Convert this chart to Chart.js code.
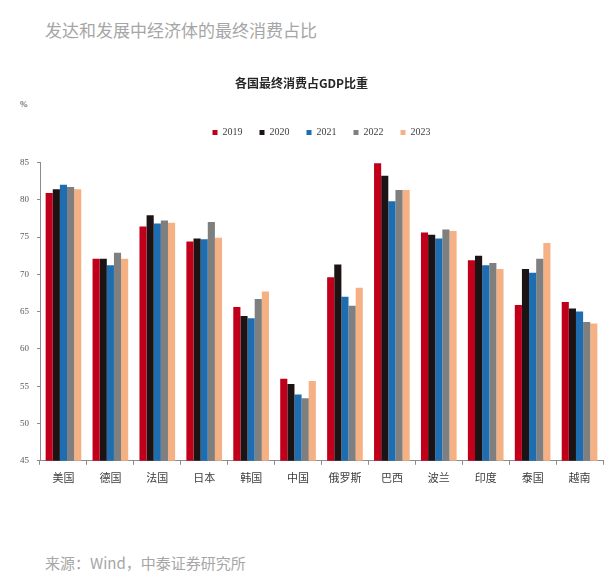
<!DOCTYPE html>
<html>
<head>
<meta charset="utf-8">
<script src="https://cdn.jsdelivr.net/npm/chart.js@4"></script>
<style>
  body { margin: 0; background: #fff; width: 611px; height: 575px; position: relative; overflow: hidden; }
  .page-title { position: absolute; left: 45px; top: 17px; font: 17px "Noto Sans CJK SC"; color: #a6a6a6; }
  .unit { position: absolute; left: 20px; top: 99px; font: 9px "Liberation Serif"; color: #404040; }
  .source { position: absolute; left: 45px; top: 552px; font: 15px "Noto Sans CJK SC"; color: #a6a6a6; }
  .wrap { position: absolute; left: 0; top: 66px; width: 611px; height: 424px; }
</style>
</head>
<body>
<div class="page-title">发达和发展中经济体的最终消费占比</div>
<div class="unit">%</div>
<div class="wrap"><canvas id="shareChart"></canvas></div>
<div class="source">来源：Wind，中泰证券研究所</div>
<script>
// countries and yearly final consumption share of GDP (%)
const countries = ['美国', '德国', '法国', '日本', '韩国', '中国', '俄罗斯', '巴西', '波兰', '印度', '泰国', '越南'];
const years = ['2019', '2020', '2021', '2022', '2023'];
const share2019 = [80.9, 72.1, 76.4, 74.4, 65.6, 56.0, 69.6, 84.9, 75.6, 71.9, 65.9, 66.3];
const share2020 = [81.4, 72.1, 77.9, 74.8, 64.4, 55.3, 71.3, 83.2, 75.3, 72.5, 70.7, 65.4];
const share2021 = [82.0, 71.2, 76.8, 74.7, 64.1, 53.9, 67.0, 79.8, 74.8, 71.2, 70.2, 65.0];
const share2022 = [81.7, 72.9, 77.2, 77.0, 66.7, 53.4, 65.8, 81.3, 76.0, 71.5, 72.1, 63.6];
const share2023 = [81.4, 72.1, 76.9, 74.9, 67.7, 55.7, 68.2, 81.3, 75.8, 70.7, 74.2, 63.4];
const yTicks = [45, 50, 55, 60, 65, 70, 75, 80, 85];

const colors = ['#c0001a', '#1c1414', '#1f6db1', '#7f7f7f', '#f5b184'];
const series = [share2019, share2020, share2021, share2022, share2023];

// extra room between the legend and the plot
const legendGap = {
    id: 'legendGap',
    beforeInit(chart) {
        const fit = chart.legend.fit;
        chart.legend.fit = function () {
            fit.bind(chart.legend)();
            this.height += 15;
        };
    }
};

const ctx = document.getElementById('shareChart').getContext('2d');
new Chart(ctx, {
    type: 'bar',
    data: {
        labels: countries,
        datasets: years.map((y, i) => ({
            label: y,
            data: series[i],
            backgroundColor: colors[i],
            borderWidth: 0,
            barPercentage: 1.0,
            categoryPercentage: 0.76
        }))
    },
    options: {
        responsive: true,
        maintainAspectRatio: false,
        animation: false,
        layout: { padding: { left: 0, right: 8, top: 0, bottom: 0 } },
        plugins: {
            title: {
                display: true,
                text: '各国最终消费占GDP比重',
                color: '#262626',
                font: { family: 'Noto Sans CJK SC', size: 12, weight: 'bold' },
                padding: { top: 10, bottom: 20 }
            },
            legend: {
                display: true,
                position: 'top',
                align: 'center',
                fullSize: false,
                labels: {
                    boxWidth: 5,
                    boxHeight: 5,
                    padding: 17,
                    color: '#404040',
                    font: { family: 'Liberation Serif', size: 10 }
                }
            },
            tooltip: { enabled: false }
        },
        scales: {
            x: {
                grid: { display: true, drawOnChartArea: false, offset: true, tickLength: 4, color: '#8c8c8c' },
                border: { color: '#8c8c8c' },
                ticks: {
                    color: '#404040',
                    font: { family: 'Noto Sans CJK SC', size: 11 },
                    maxRotation: 0,
                    padding: 6
                }
            },
            y: {
                min: 45,
                max: 85,
                afterBuildTicks: axis => { axis.ticks = yTicks.map(v => ({ value: v })); },
                afterFit: axis => { axis.width = 40; },
                grid: { display: true, drawOnChartArea: false, tickLength: 3, color: '#8c8c8c' },
                border: { color: '#8c8c8c' },
                ticks: {
                    color: '#595959',
                    font: { family: 'Liberation Serif', size: 9 },
                    padding: 8
                }
            }
        }
    },
    plugins: [legendGap]
});
</script>
</body>
</html>
